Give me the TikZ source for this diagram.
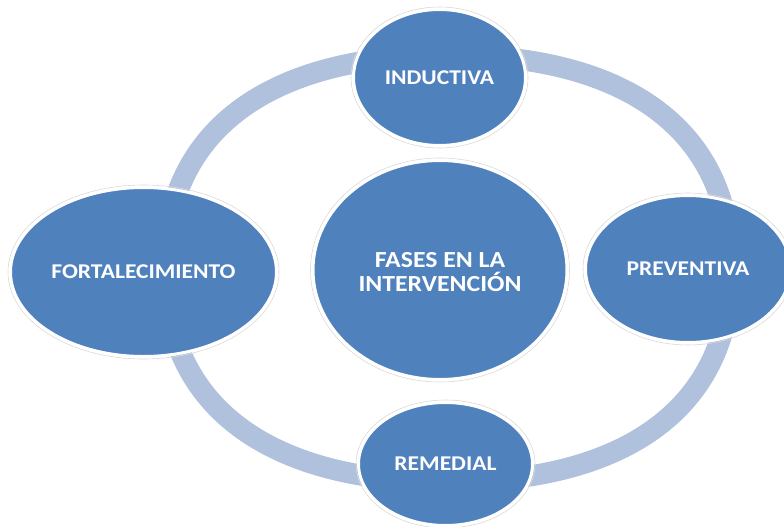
\documentclass[tikz,border=0pt]{standalone}
\usepackage{fontspec}
\setmainfont{Carlito}[FakeStretch=1.12]
\usetikzlibrary{shapes.geometric}
\definecolor{nodeblue}{HTML}{4F81BD}
\definecolor{ringblue}{HTML}{B0C1DD}
\tikzset{
  phase/.style={ellipse, fill=nodeblue, draw=white, line width=3pt, inner sep=0pt,
    text=white, font=\fontsize{21}{24}\selectfont\bfseries, align=center},
  bigphase/.style={phase, font=\fontsize{23}{24}\selectfont\bfseries},
  halo/.style={ellipse, draw=gray!30, line width=0.6pt, inner sep=0pt},
  ringline/.style={draw=ringblue, line width=21pt}
}
\begin{document}
\begin{tikzpicture}[x=1pt,y=-1pt]
\useasboundingbox (0,0) rectangle (784,527);
\clip (0,0) rectangle (784,527);
% ring
\coordinate (rc) at (448,268.5);
\draw[ringline] (731,268.5) .. controls (731,405.1) and (629.1,482) .. (448,482)
  .. controls (266.9,482) and (165,405.1) .. (165,268.5)
  .. controls (165,131.9) and (266.9,55) .. (448,55)
  .. controls (629.1,55) and (731,131.9) .. (731,268.5) -- cycle;
% halos
\node[halo, minimum width=177pt, minimum height=141pt] (ih) at (439.5,77.5) {};
\node[halo, minimum width=210pt, minimum height=152pt] (ph) at (688,269) {};
\node[halo, minimum width=179pt, minimum height=128pt] (rh) at (445.5,464) {};
\node[halo, minimum width=271pt, minimum height=174pt] (fh) at (143.5,272) {};
\node[halo, minimum width=259pt, minimum height=224pt] (ch) at (440,270) {};
% phases
\node[phase, minimum width=172pt, minimum height=136pt] (ind) at (439.5,77.5) {INDUCTIVA};
\node[phase, minimum width=205pt, minimum height=147pt] (pre) at (688,269) {PREVENTIVA};
\node[phase, minimum width=174pt, minimum height=123pt] (rem) at (445.5,464) {REMEDIAL};
\node[phase, minimum width=266pt, minimum height=169pt] (for) at (143.5,272) {FORTALECIMIENTO};
\node[bigphase, minimum width=254pt, minimum height=219pt] (cen) at (440,270) {};
\node[bigphase, fill=none, draw=none] (cent) at (440,272) {FASES EN LA\\INTERVENCIÓN};
\end{tikzpicture}
\end{document}
